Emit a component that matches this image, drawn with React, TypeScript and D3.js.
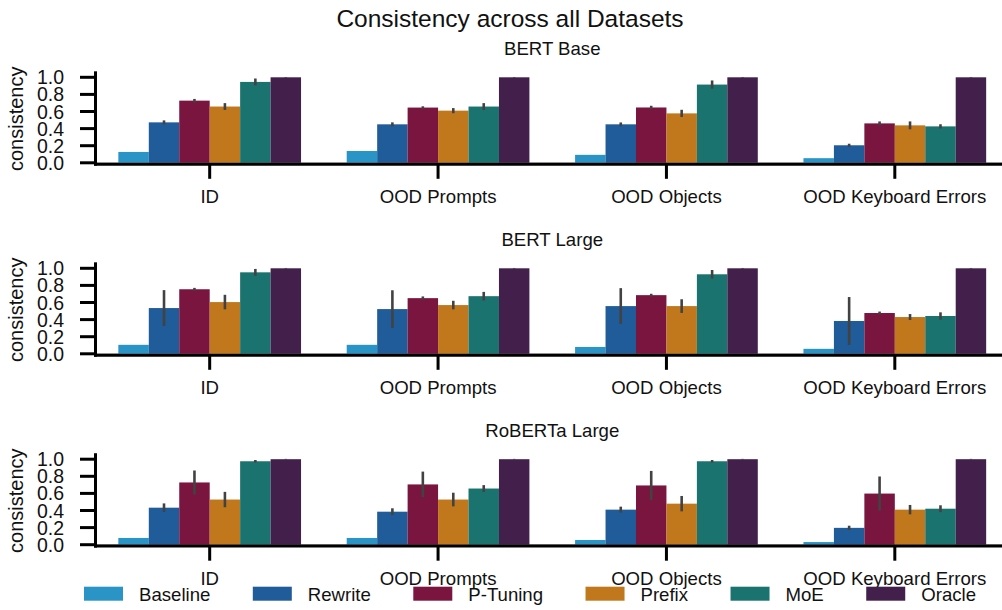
import React from 'react';
import * as d3 from 'd3';

const categories = ['ID', 'OOD Prompts', 'OOD Objects', 'OOD Keyboard Errors'];
const series = ['Baseline', 'Rewrite', 'P-Tuning', 'Prefix', 'MoE', 'Oracle'];
const colors = ['#2994c5', '#1f5c99', '#7a153f', '#c1781c', '#1b736f', '#43204c'];
const models = ['BERT Base', 'BERT Large', 'RoBERTa Large'];
const yTicks = [0, 0.2, 0.4, 0.6, 0.8, 1.0];

// rows = series, columns = categories
const bertBaseMean = [
  [0.127, 0.138, 0.093, 0.054],
  [0.473, 0.45, 0.45, 0.205],
  [0.727, 0.646, 0.647, 0.461],
  [0.658, 0.61, 0.578, 0.438],
  [0.946, 0.658, 0.915, 0.426],
  [1.0, 1.0, 1.0, 1.0],
];
const bertBaseErr = [
  [0, 0, 0, 0],
  [0.023, 0.023, 0.022, 0.018],
  [0.02, 0.015, 0.02, 0.023],
  [0.04, 0.03, 0.042, 0.046],
  [0.04, 0.04, 0.048, 0.025],
  [0.005, 0.005, 0.005, 0.005],
];
const bertLargeMean = [
  [0.105, 0.105, 0.08, 0.058],
  [0.535, 0.523, 0.558, 0.384],
  [0.755, 0.651, 0.686, 0.477],
  [0.605, 0.57, 0.558, 0.43],
  [0.953, 0.674, 0.93, 0.442],
  [1.0, 1.0, 1.0, 1.0],
];
const bertLargeErr = [
  [0, 0, 0, 0],
  [0.21, 0.22, 0.21, 0.28],
  [0.016, 0.02, 0.016, 0.017],
  [0.085, 0.05, 0.08, 0.035],
  [0.04, 0.05, 0.05, 0.043],
  [0.005, 0.005, 0.005, 0.005],
];
const robertaLargeMean = [
  [0.079, 0.079, 0.055, 0.031],
  [0.433, 0.386, 0.41, 0.197],
  [0.728, 0.705, 0.693, 0.598],
  [0.528, 0.528, 0.48, 0.41],
  [0.976, 0.657, 0.976, 0.421],
  [1.0, 1.0, 1.0, 1.0],
];
const robertaLargeErr = [
  [0, 0, 0, 0],
  [0.05, 0.04, 0.035, 0.025],
  [0.14, 0.15, 0.17, 0.2],
  [0.09, 0.08, 0.09, 0.055],
  [0.015, 0.04, 0.015, 0.04],
  [0.005, 0.005, 0.005, 0.005],
];

const means = [bertBaseMean, bertLargeMean, robertaLargeMean];
const errs = [bertBaseErr, bertLargeErr, robertaLargeErr];

const W = 1002;
const H = 610;
const FONT = '"Liberation Sans", Arial, Helvetica, sans-serif';
const zeroYs = [162.8, 353.8, 544.7];
const unit = 85.5;
const yMax = 1.07;
const xLeft = 95.5;
const xRight = 1009;

const legendFont = 18.6;

function measure(text: string, size: number) {
  if (typeof document === 'undefined') return text.length * size * 0.5;
  const c = document.createElement('canvas');
  const ctx = c.getContext('2d');
  if (!ctx) return text.length * size * 0.5;
  ctx.font = `${size}px "Liberation Sans"`;
  return ctx.measureText(text).width;
}

function Panel({ idx }: { idx: number }) {
  const zero = zeroYs[idx];
  const x = d3.scaleBand<string>().domain(categories).range([xLeft, xRight]).padding(0);
  const inner = d3
    .scaleBand<string>()
    .domain(series)
    .range([0, x.bandwidth() * 0.8]);
  const y = d3.scaleLinear().domain([0, yMax]).range([zero, zero - yMax * unit]);
  const mean = means[idx];
  const err = errs[idx];
  const groupOffset = x.bandwidth() * 0.1;
  const spineY = zero + 1.4;
  return (
    <g>
      <line x1={xLeft} x2={W} y1={zero} y2={zero} stroke="#aaaaaa" strokeWidth={1} />
      {series.map((s, si) =>
        categories.map((c, ci) => {
          const v = mean[si][ci];
          const bx = (x(c) as number) + groupOffset + (inner(s) as number);
          return (
            <rect
              key={`${s}-${c}`}
              x={bx}
              y={y(v)}
              width={inner.bandwidth()}
              height={y(0) - y(v)}
              fill={colors[si]}
            />
          );
        })
      )}
      {series.map((s, si) =>
        categories.map((c, ci) => {
          const v = mean[si][ci];
          const e = err[si][ci];
          if (e <= 0) return null;
          const cx = (x(c) as number) + groupOffset + (inner(s) as number) + inner.bandwidth() / 2;
          return (
            <line
              key={`e-${s}-${c}`}
              x1={cx}
              x2={cx}
              y1={y(v - e)}
              y2={y(Math.min(v + e, 1.004))}
              stroke="#424242"
              strokeWidth={2.6}
            />
          );
        })
      )}
      {/* spines */}
      <line x1={xLeft - 1.5} x2={xRight} y1={spineY} y2={spineY} stroke="#000" strokeWidth={3} />
      <line x1={xLeft} x2={xLeft} y1={y(yMax)} y2={spineY + 1.5} stroke="#000" strokeWidth={3} />
      {yTicks.map((t) => (
        <g key={`yt${t}`}>
          <line x1={80} x2={xLeft} y1={y(t)} y2={y(t)} stroke="#000" strokeWidth={3} />
          <text
            x={64}
            y={y(t)}
            dy="0.36em"
            textAnchor="end"
            fontSize={19.5}
            fontFamily={FONT}
            fill="#111"
          >
            {t.toFixed(1)}
          </text>
        </g>
      ))}
      {categories.map((c) => {
        const cx = (x(c) as number) + x.bandwidth() / 2;
        return (
          <g key={`xt${c}`}>
            <line x1={cx} x2={cx} y1={spineY} y2={zero + 16} stroke="#000" strokeWidth={3} />
            <text x={cx} y={zero + 40} textAnchor="middle" fontSize={18.6} fontFamily={FONT} fill="#111">
              {c}
            </text>
          </g>
        );
      })}
      <text
        x={(xLeft + xRight) / 2}
        y={zero - 107.5}
        textAnchor="middle"
        fontSize={18.6}
        fontFamily={FONT}
        fill="#111"
      >
        {models[idx]}
      </text>
      <text
        transform={`translate(23, ${zero - 44}) rotate(-90)`}
        textAnchor="middle"
        fontSize={20}
        fontFamily={FONT}
        fill="#111"
      >
        consistency
      </text>
    </g>
  );
}

function Legend() {
  const patchW = 39;
  const patchH = 14;
  const textPad = 16;
  const startX = 84;
  const endX = 976;
  const widths = series.map((s) => patchW + textPad + measure(s, legendFont));
  const total = d3.sum(widths);
  const gap = (endX - startX - total) / (series.length - 1);
  let acc = startX;
  const xs = widths.map((w) => {
    const p = acc;
    acc += w + gap;
    return p;
  });
  return (
    <g>
      {series.map((s, i) => (
        <g key={s}>
          <rect x={xs[i]} y={586.7} width={patchW} height={patchH} fill={colors[i]} />
          <text x={xs[i] + patchW + textPad} y={600.5} fontSize={legendFont} fontFamily={FONT} fill="#111">
            {s}
          </text>
        </g>
      ))}
    </g>
  );
}

export default function App() {
  return (
    <svg
      width={W}
      height={H}
      viewBox={`0 0 ${W} ${H}`}
      style={{ position: 'absolute', left: 0, top: 0, background: '#fff' }}
    >
      <rect x={0} y={0} width={W} height={H} fill="#fff" />
      <text x={510} y={27} textAnchor="middle" fontSize={24.5} fontFamily={FONT} fill="#111">
        Consistency across all Datasets
      </text>
      {models.map((m, i) => (
        <Panel key={m} idx={i} />
      ))}
      <Legend />
    </svg>
  );
}
